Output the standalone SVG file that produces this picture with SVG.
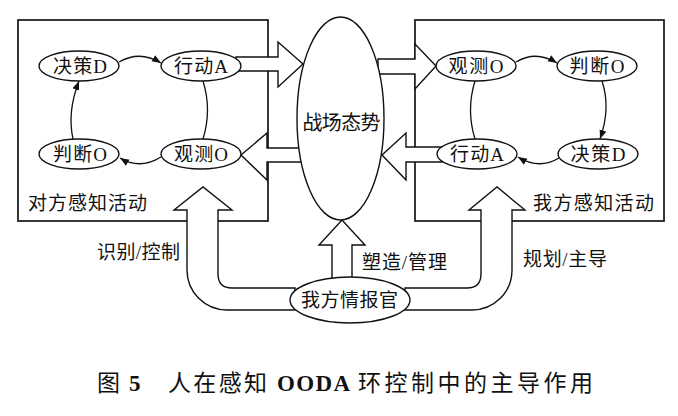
<svg xmlns="http://www.w3.org/2000/svg" width="678" height="416" viewBox="0 0 678 416">
<style>
.box{fill:none;stroke:#222;stroke-width:1.8}
.node{fill:#fff;stroke:#111;stroke-width:1.4}
.blk{fill:#fff;stroke:#111;stroke-width:1.4;stroke-linejoin:miter}
.arc{fill:none;stroke:#111;stroke-width:1.3}
text{font-family:"Liberation Serif","Noto Sans CJK SC",serif;fill:#111}
.nl{font-size:19px;text-anchor:middle}
.lb{font-size:19px}
.cap{font-size:23px}
</style>
<defs>
<marker id="ah" markerUnits="userSpaceOnUse" markerWidth="10" markerHeight="8" refX="9" refY="4" orient="auto">
<path d="M0,0.5 L9,4 L0,7.5 Z" fill="#111"/>
</marker>
</defs>
<rect class="box" x="18" y="20" width="250" height="201"/>
<rect class="box" x="415" y="20" width="249" height="201"/>
<g id="connectors">
<path class="arc" d="M119 62 Q140 50 161 63" marker-end="url(#ah)"/>
<path class="arc" d="M203 81 Q212 110 203 139"/>
<path class="arc" d="M161 157 Q140 170 120 158" marker-end="url(#ah)"/>
<path class="arc" d="M73 139 Q67 112 79 81" marker-end="url(#ah)"/>
<path class="arc" d="M516 62 Q536 50 557 63" marker-end="url(#ah)"/>
<path class="arc" d="M602 81 Q611 108 600 139" marker-end="url(#ah)"/>
<path class="arc" d="M559 158 Q539 170 518 157" marker-end="url(#ah)"/>
<path class="arc" d="M475 139 Q466 110 475 81"/>
<polygon class="blk" points="236,57 278,57 278,42 303,64 278,87 278,71 236,71"/>
<polygon class="blk" points="306,148 267,148 267,133 241,155 267,180 267,162 306,162"/>
<polygon class="blk" points="378,59 415,59 415,44 436,66 415,89 415,74 378,74"/>
<polygon class="blk" points="442,147 406,147 406,133 382,155 406,180 406,162 442,162"/>
<polygon class="blk" points="332,285 332,245 319,245 342,220 365,245 352,245 352,285"/>
<path class="blk" d="M295 288 L232 288 Q218 288 218 274 L218 210 L232 210 L203 187 L174 210 L187 210 L187 270 A40 40 0 0 0 227 310 L295 310 Z"/>
<path class="blk" d="M405 288 L467 288 Q481 288 481 274 L481 210 L469 210 L497 187 L525 210 L512 210 L512 270 A40 40 0 0 1 472 310 L405 310 Z"/>
</g>
<g id="battlefield"><ellipse class="node" cx="340.5" cy="118.5" rx="43.5" ry="101.5"/><text x="341.5" y="129.5" font-size="20" text-anchor="middle" textLength="78">战场态势</text></g>
<g id="L-decide"><ellipse class="node" cx="79" cy="66" rx="40" ry="15"/><text class="nl" x="80" y="72.5" textLength="54">决策D</text></g>
<g id="L-act"><ellipse class="node" cx="201" cy="66" rx="40" ry="15"/><text class="nl" x="201" y="72.5" textLength="54">行动A</text></g>
<g id="L-orient"><ellipse class="node" cx="79" cy="154" rx="40" ry="15"/><text class="nl" x="80" y="160.5" textLength="54">判断O</text></g>
<g id="L-observe"><ellipse class="node" cx="201" cy="154" rx="40" ry="15"/><text class="nl" x="201" y="160.5" textLength="54">观测O</text></g>
<g id="R-observe"><ellipse class="node" cx="476" cy="66" rx="40" ry="15"/><text class="nl" x="476" y="72.5" textLength="55">观测O</text></g>
<g id="R-orient"><ellipse class="node" cx="597" cy="66" rx="40" ry="15"/><text class="nl" x="597" y="72.5" textLength="55">判断O</text></g>
<g id="R-act"><ellipse class="node" cx="477" cy="154" rx="40" ry="15"/><text class="nl" x="477" y="160.5" textLength="54">行动A</text></g>
<g id="R-decide"><ellipse class="node" cx="598" cy="154" rx="40" ry="15"/><text class="nl" x="598" y="160.5" textLength="55">决策D</text></g>
<g id="officer"><ellipse class="node" cx="350" cy="300" rx="60" ry="23"/><text x="301" y="307" font-size="19" textLength="97">我方情报官</text></g>
<g id="labels">
<text class="lb" x="28" y="210" textLength="119">对方感知活动</text>
<text class="lb" x="533" y="210" textLength="121">我方感知活动</text>
<text class="lb" x="97" y="259" textLength="83">识别/控制</text>
<text class="lb" x="362" y="269" textLength="85">塑造/管理</text>
<text class="lb" x="523" y="266" textLength="84">规划/主导</text>
</g>
<text class="cap" y="390.5"><tspan x="97" textLength="20">图</tspan><tspan x="129" font-weight="bold">5</tspan><tspan x="168" textLength="99">人在感知</tspan><tspan x="277" font-weight="bold" textLength="73">OODA</tspan><tspan x="358" textLength="235">环控制中的主导作用</tspan></text>
</svg>
